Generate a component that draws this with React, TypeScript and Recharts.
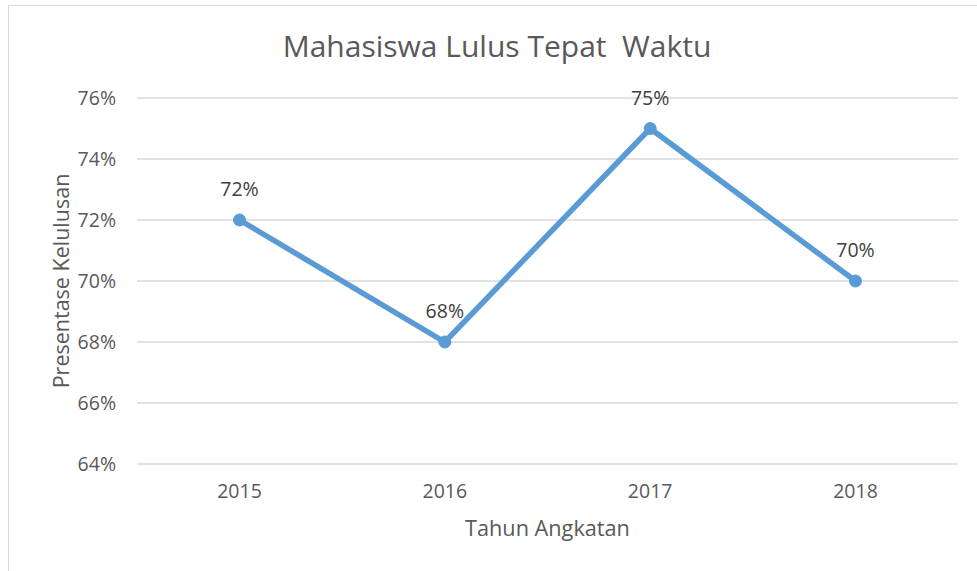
import { LineChart, Line, XAxis, YAxis, CartesianGrid, LabelList, Label } from 'recharts';

const years = ['2015', '2016', '2017', '2018'];
const lulusTepat = [0.72, 0.68, 0.75, 0.70];
const yTicks = [0.64, 0.66, 0.68, 0.70, 0.72, 0.74, 0.76];

const data = years.map((y, i) => ({ tahun: y, lulus: lulusTepat[i] }));

const FONT = '"Open Sans", Lato, sans-serif';
const pct = (v: number) => `${Math.round(v * 100)}%`;

export default function App() {
    return (
        <div style={{ position: 'absolute', left: 0, top: 0, width: 977, height: 571, background: '#fff', overflow: 'hidden', fontFamily: FONT }}>
            <div style={{ position: 'absolute', left: 8, top: 5, width: 1000, height: 600, border: '1.5px solid #d9d9d9' }} />
            <div style={{ position: 'absolute', left: 0, top: 26, width: 994, textAlign: 'center', fontSize: 30, lineHeight: '40px', color: '#595959' }}>
                Mahasiswa Lulus Tepat&nbsp;&nbsp;Waktu
            </div>
            <div style={{ position: 'absolute', left: 0, top: 0 }}>
                <LineChart width={977} height={571} data={data} margin={{ top: 98, right: 19, left: 0, bottom: 0 }}>
                    <CartesianGrid vertical={false} stroke="#d9d9d9" strokeWidth={1.5} />
                    <XAxis
                        dataKey="tahun"
                        height={107}
                        padding={{ left: 102.5, right: 102.5 }}
                        axisLine={false}
                        tickLine={false}
                        tickMargin={14}
                        tick={{ fill: '#595959', fontSize: 19.5, fontFamily: FONT }}
                    >
                        <Label
                            value="Tahun Angkatan"
                            position="insideBottom"
                            offset={35}
                            style={{ fill: '#595959', fontSize: 21.7, fontFamily: FONT }}
                        />
                    </XAxis>
                    <YAxis
                        width={137}
                        domain={[0.64, 0.76]}
                        ticks={yTicks}
                        tickFormatter={pct}
                        axisLine={false}
                        tickLine={false}
                        tickMargin={15}
                        tick={{ fill: '#595959', fontSize: 19.5, fontFamily: FONT }}
                    >
                        <Label
                            content={({ viewBox }: any) => {
                                const cy = viewBox.y + viewBox.height / 2;
                                return (
                                    <text
                                        x={60}
                                        y={cy}
                                        transform={`rotate(-90 60 ${cy})`}
                                        textAnchor="middle"
                                        dominantBaseline="central"
                                        fill="#595959"
                                        fontSize={21.5}
                                        fontFamily={FONT}
                                    >
                                        Presentase Kelulusan
                                    </text>
                                );
                            }}
                        />
                    </YAxis>
                    <Line
                        type="linear"
                        dataKey="lulus"
                        stroke="#5b9bd5"
                        strokeWidth={5.5}
                        dot={{ r: 6, fill: '#5b9bd5', stroke: '#5b9bd5', strokeWidth: 1 }}
                        isAnimationActive={false}
                    >
                        <LabelList
                            dataKey="lulus"
                            position="top"
                            offset={24}
                            formatter={(v: any) => pct(Number(v))}
                            style={{ fill: '#404040', fontSize: 19.5, fontFamily: FONT }}
                        />
                    </Line>
                </LineChart>
            </div>
        </div>
    );
}
